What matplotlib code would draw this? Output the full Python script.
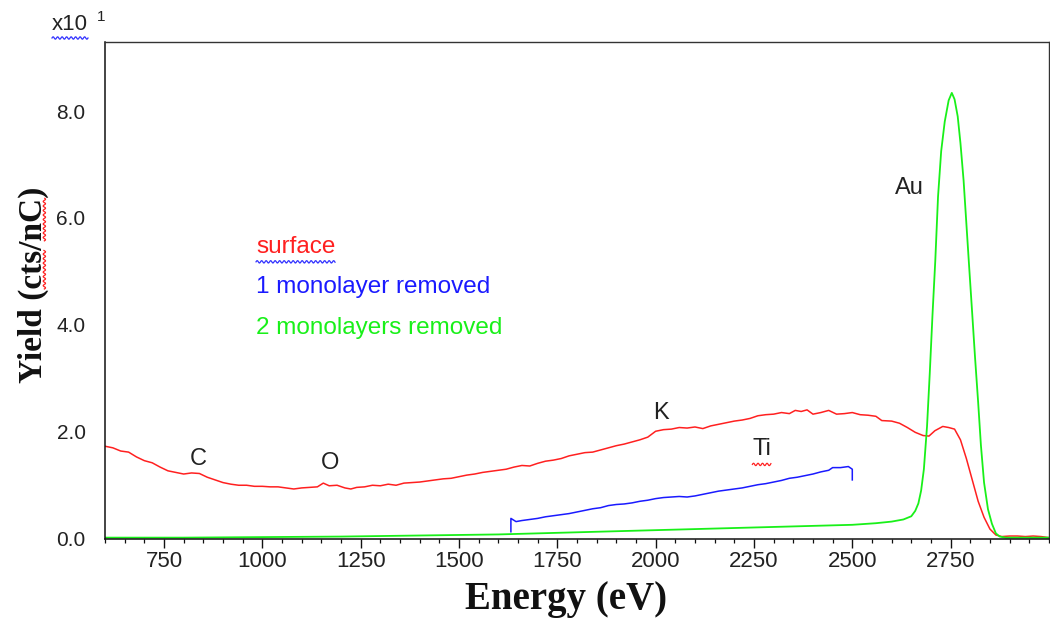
import numpy as np
import matplotlib
matplotlib.use("Agg")
import matplotlib.pyplot as plt
from matplotlib.lines import Line2D
from matplotlib.ticker import FixedLocator, MultipleLocator, FormatStrFormatter

# ---- spectra (yield in units of 10 cts/nC) ----
surface_energy = [600, 620, 640, 660, 680, 700, 720, 740, 760, 780, 800, 820, 840,
                  860, 880, 900, 920, 940, 960, 980, 1000, 1020, 1040, 1060, 1080,
                  1100, 1120, 1140, 1155, 1170, 1190, 1210, 1225, 1240, 1260, 1280,
                  1300, 1320, 1340, 1360, 1380, 1400, 1420, 1440, 1460, 1480, 1500,
                  1520, 1540, 1560, 1580, 1600, 1620, 1640, 1660, 1680, 1700, 1720,
                  1740, 1760, 1780, 1800, 1820, 1840, 1860, 1880, 1900, 1920, 1940,
                  1960, 1980, 2000, 2020, 2040, 2060, 2080, 2100, 2120, 2140, 2160,
                  2180, 2200, 2220, 2240, 2260, 2280, 2300, 2320, 2340, 2355, 2370,
                  2385, 2400, 2420, 2440, 2460, 2480, 2500, 2520, 2540, 2560, 2575,
                  2600, 2620, 2640, 2660, 2680, 2695, 2710, 2730, 2745, 2760, 2775,
                  2790, 2805, 2820, 2835, 2850, 2865, 2880, 2900, 2920, 2940, 2960,
                  2980, 3000]
surface_yield = [1.73, 1.70, 1.64, 1.62, 1.53, 1.46, 1.42, 1.34, 1.27, 1.24, 1.21, 1.23, 1.22,
                 1.15, 1.10, 1.05, 1.02, 1.00, 1.00, 0.98, 0.98, 0.97, 0.97, 0.95, 0.93,
                 0.95, 0.96, 0.97, 1.04, 0.99, 1.00, 0.95, 0.93, 0.96, 0.97, 1.00,
                 0.99, 1.02, 1.00, 1.04, 1.05, 1.06, 1.08, 1.10, 1.12, 1.13, 1.16,
                 1.19, 1.21, 1.24, 1.26, 1.28, 1.30, 1.34, 1.37, 1.36, 1.41, 1.45,
                 1.47, 1.50, 1.55, 1.58, 1.61, 1.62, 1.66, 1.70, 1.74, 1.77, 1.81,
                 1.85, 1.90, 2.01, 2.04, 2.05, 2.08, 2.07, 2.09, 2.06, 2.11, 2.14,
                 2.17, 2.20, 2.22, 2.25, 2.30, 2.32, 2.33, 2.36, 2.34, 2.40, 2.38,
                 2.41, 2.33, 2.36, 2.40, 2.33, 2.34, 2.36, 2.32, 2.31, 2.29, 2.21,
                 2.20, 2.16, 2.08, 1.99, 1.93, 1.92, 2.02, 2.10, 2.08, 2.05, 1.85,
                 1.50, 1.10, 0.70, 0.40, 0.18, 0.07, 0.04, 0.05, 0.05, 0.04, 0.05,
                 0.04, 0.02]

mono1_energy = [1632, 1632, 1645, 1660, 1680, 1700, 1720, 1740, 1760, 1780, 1800, 1820,
                1840, 1860, 1880, 1900, 1920, 1940, 1960, 1980, 2000, 2020, 2040, 2060,
                2080, 2100, 2120, 2140, 2160, 2180, 2200, 2220, 2240, 2260, 2280, 2300,
                2320, 2340, 2360, 2380, 2400, 2420, 2440, 2450, 2470, 2490, 2500, 2500]
mono1_yield = [0.13, 0.38, 0.32, 0.34, 0.36, 0.38, 0.41, 0.43, 0.45, 0.47, 0.50, 0.53,
               0.56, 0.58, 0.62, 0.64, 0.65, 0.67, 0.70, 0.72, 0.75, 0.77, 0.78, 0.79,
               0.78, 0.80, 0.83, 0.86, 0.89, 0.91, 0.93, 0.95, 0.98, 1.01, 1.03, 1.06,
               1.09, 1.13, 1.15, 1.18, 1.21, 1.25, 1.28, 1.33, 1.33, 1.35, 1.30, 1.10]

mono2_energy = [600, 800, 1000, 1200, 1400, 1600, 1800, 2000, 2200, 2400, 2500, 2560,
                2600, 2630, 2650, 2660, 2668, 2675, 2682, 2690, 2697, 2704, 2711, 2718,
                2726, 2735, 2745, 2753, 2760, 2768, 2775, 2783, 2790, 2797, 2805, 2812,
                2820, 2827, 2835, 2845, 2855, 2865, 2875, 2890, 3000]
mono2_yield = [0.02, 0.02, 0.03, 0.04, 0.06, 0.08, 0.12, 0.16, 0.20, 0.24, 0.26, 0.29,
               0.32, 0.36, 0.42, 0.52, 0.66, 0.90, 1.30, 2.10, 3.10, 4.20, 5.20, 6.40,
               7.25, 7.80, 8.20, 8.34, 8.22, 7.90, 7.40, 6.70, 5.90, 5.10, 4.20, 3.40,
               2.55, 1.75, 1.05, 0.55, 0.28, 0.10, 0.04, 0.02, 0.02]

series_names = ["surface", "1 monolayer removed", "2 monolayers removed"]
series_colors = ["#ff2020", "#1a1aff", "#19f019"]

peak_labels = ["C", "O", "K", "Ti", "Au"]
peak_energy = [836, 1172, 2013, 2270, 2646]
peak_height = [1.49, 1.41, 2.35, 1.67, 6.56]

x_major = [750, 1000, 1250, 1500, 1750, 2000, 2250, 2500, 2750]
y_major = [0.0, 2.0, 4.0, 6.0, 8.0]

SANS = "Liberation Sans"
SERIF = "Liberation Serif"
TXT = "#222222"

fig = plt.figure(figsize=(10.5, 6.23), dpi=100)
ax = fig.add_axes([0.100, 0.1353, 0.899, 0.798])

ax.plot(surface_energy, surface_yield, color=series_colors[0], lw=1.1)
ax.plot(mono1_energy, mono1_yield, color=series_colors[1], lw=1.1)
ax.plot(mono2_energy, mono2_yield, color=series_colors[2], lw=1.3)

ax.set_xlim(600, 3000)
ax.set_ylim(0, 9.3)

ax.xaxis.set_major_locator(FixedLocator(x_major))
ax.xaxis.set_minor_locator(MultipleLocator(50))
ax.yaxis.set_major_locator(FixedLocator(y_major))
ax.yaxis.set_major_formatter(FormatStrFormatter("%.1f"))

ax.tick_params(axis="x", which="major", direction="out", length=6.5, width=1.0,
               color="#111111", pad=2, labelsize=16, labelcolor=TXT)
ax.tick_params(axis="x", which="minor", direction="out", length=3, width=0.9,
               color="#111111")
ax.tick_params(axis="y", which="both", length=0, pad=14, labelsize=15, labelcolor=TXT)
for lab in ax.get_xticklabels() + ax.get_yticklabels():
    lab.set_fontfamily(SANS)

for side in ["left", "bottom"]:
    ax.spines[side].set_linewidth(1.1)
    ax.spines[side].set_color("#111111")
for side in ["top", "right"]:
    ax.spines[side].set_linewidth(1.0)
    ax.spines[side].set_color("#333333")

ax.set_xlabel("Energy (eV)", fontfamily=SERIF, fontweight="bold", fontsize=28,
              color="#111111")
ax.xaxis.set_label_coords(0.488, -0.123)
ax.xaxis.label.set_verticalalignment("center")
ax.set_ylabel("Yield (cts/nC)", fontfamily=SERIF, fontweight="bold", fontsize=24,
              color="#111111")
ax.yaxis.set_label_coords(-0.0763, 0.510)
ax.yaxis.label.set_verticalalignment("center")

# series captions
caption_y = [5.46, 4.71, 3.95]
captions = []
for name, col, yy in zip(series_names, series_colors, caption_y):
    captions.append(ax.text(984, yy, name, color=col, fontsize=17.5, fontfamily=SANS,
                            ha="left", va="center"))

# element labels
peak_texts = []
for lab, ex, ey in zip(peak_labels, peak_energy, peak_height):
    peak_texts.append(ax.text(ex, ey, lab, color=TXT, fontsize=17, fontfamily=SANS,
                              ha="center", va="center"))

# axis multiplier
mult = fig.text(52 / 1050, 1 - 30 / 623, "x10", fontsize=16, fontfamily=SANS,
                color=TXT, ha="left", va="baseline")
fig.text(97 / 1050, 1 - 21 / 623, "1", fontsize=11, fontfamily=SANS,
         color=TXT, ha="left", va="baseline")

# wavy proofing underlines
fig.canvas.draw()
renderer = fig.canvas.get_renderer()
to_fig = fig.transFigure.inverted()


def wavy(p0, p1, offset, color, vertical=False):
    t = np.arange(p0, p1 + 0.01, 0.5)
    w = offset + 1.2 * np.sin(2 * np.pi * (t - p0) / 4.5)
    pts = np.column_stack([w, t]) if vertical else np.column_stack([t, w])
    pts = to_fig.transform(pts)
    fig.add_artist(Line2D(pts[:, 0], pts[:, 1], transform=fig.transFigure,
                          color=color, lw=0.9))


def baseline_y(txt):
    bb = txt.get_window_extent(renderer)
    _, _, d = renderer.get_text_width_height_descent(
        txt.get_text(), txt.get_fontproperties(), ismath=False)
    return bb, bb.y0 + d


bb, by = baseline_y(mult)
wavy(bb.x0, bb.x1, by - 3, "#3333ff")
bb, by = baseline_y(captions[0])
wavy(bb.x0, bb.x1, by - 4, "#3333ff")
bb, by = baseline_y(peak_texts[3])
wavy(bb.x0, bb.x1, by - 4, "#ff2020")

ylab = ax.yaxis.label
bb = ylab.get_window_extent(renderer)
prop = ylab.get_fontproperties()
full = ylab.get_text()


def prefix_w(n):
    return renderer.get_text_width_height_descent(full[:n], prop, ismath=False)[0]


_, _, desc = renderer.get_text_width_height_descent(full, prop, ismath=False)
base_x = bb.x1 - desc
i_cts = full.index("cts")
i_nc = full.index("nC")
wavy(bb.y0 + prefix_w(i_cts), bb.y0 + prefix_w(i_cts + 3), base_x + 3, "#ff2020", vertical=True)
wavy(bb.y0 + prefix_w(i_nc), bb.y0 + prefix_w(i_nc + 2), base_x + 3, "#ff2020", vertical=True)

fig.savefig("out.png", dpi=100, facecolor="white")
